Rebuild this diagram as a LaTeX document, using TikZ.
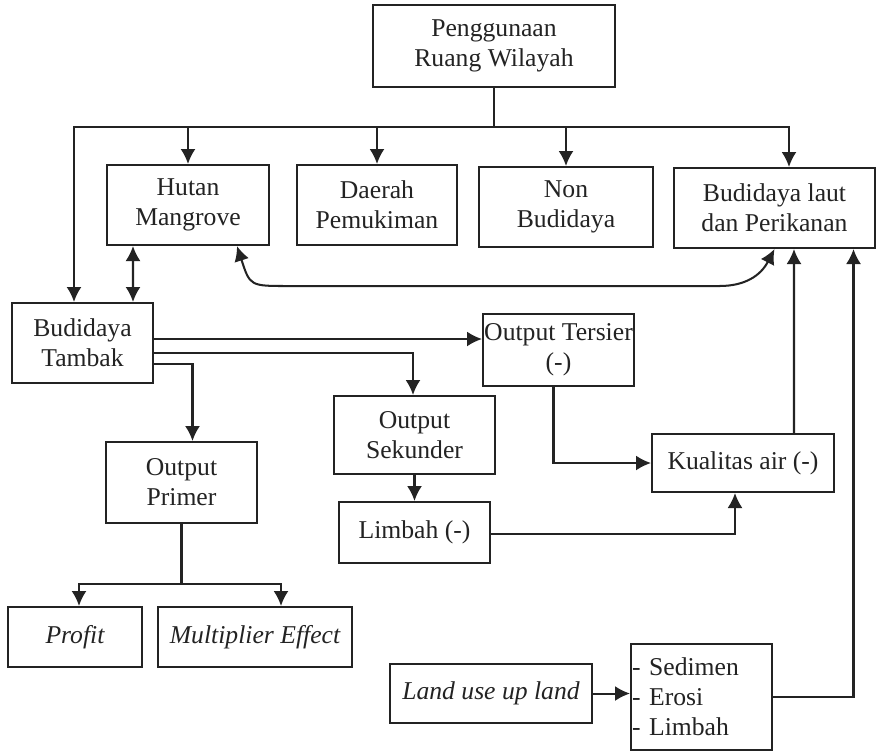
\documentclass[tikz,border=0pt]{standalone}
\usepackage{fontspec}
\setmainfont{Liberation Serif}
\usetikzlibrary{arrows.meta,calc}
\definecolor{ink}{RGB}{35,35,35}

\begin{document}
\begin{tikzpicture}[x=0.02cm,y=-0.02cm,
	box/.style={draw=ink,line width=1.15pt,align=center,inner sep=0.5pt,text=ink,font=\fontsize{14.6}{17}\selectfont},
	link/.style={draw=ink,line width=1.15pt},
	arr/.style={link,-{Latex[length=3mm,width=3mm]}},
	arrtwo/.style={link,{Latex[length=3mm,width=3mm]}-{Latex[length=3mm,width=3mm]}}]
	\useasboundingbox[fill=white] (0,0) rectangle (876,752);
	\node[box,minimum width=4.84cm,minimum height=1.64cm] (pengg) at (494,46) {Penggunaan\\Ruang Wilayah};
	\node[box,minimum width=3.24cm,minimum height=1.6cm] (hutan) at (188,205) {Hutan\\Mangrove};
	\node[box,minimum width=3.2cm,minimum height=1.6cm] (daerah) at (377,205) {Daerah\\Pemukiman};
	\node[box,minimum width=3.48cm,minimum height=1.6cm] (nonbud) at (566,207) {Non\\Budidaya};
	\node[box,minimum width=4.02cm,minimum height=1.6cm] (laut) at (774.5,208) {Budidaya laut\\dan Perikanan};
	\node[box,minimum width=2.82cm,minimum height=1.6cm] (tambak) at (82.5,343) {Budidaya\\Tambak};
	\node[box,minimum width=3.02cm,minimum height=1.44cm] (tersier) at (558.5,350) {Output Tersier\\(-)};
	\node[box,minimum width=3.22cm,minimum height=1.56cm] (sekunder) at (414.5,435) {Output\\Sekunder};
	\node[box,minimum width=3.02cm,minimum height=1.62cm] (primer) at (181.5,482.5) {Output\\Primer};
	\node[box,minimum width=3.02cm,minimum height=1.22cm] (limbah) at (414.5,532.5) {Limbah (-)};
	\node[box,minimum width=3.64cm,minimum height=1.16cm] (kualitas) at (743,463) {Kualitas air (-)};
	\node[box,minimum width=2.68cm,minimum height=1.2cm] (profit) at (75,637) {\itshape Profit};
	\node[box,minimum width=3.88cm,minimum height=1.2cm] (multi) at (255,637) {\itshape Multiplier Effect};
	\node[box,minimum width=4.04cm,minimum height=1.18cm] (landuse) at (491,693.5) {\itshape Land use up land};
	\node[box,align=left,text width=2.78cm,minimum height=2.12cm,inner xsep=0.02cm] (sedimen) at (701.5,697) {- Sedimen\\- Erosi\\- Limbah};
	\coordinate (bus) at ($(pengg.south)+(0,39)$);
	\draw[link] (pengg.south) -- (bus);
	\draw[arr] (bus) -| ($(tambak.north)+(-8.5,0)$);
	\draw[arr] (bus) -| (hutan.north);
	\draw[arr] (bus) -| (daerah.north);
	\draw[arr] (bus) -| (nonbud.north);
	\draw[arr] (bus) -| ($(laut.north)+(14.5,0)$);
	\draw[arrtwo] ($(hutan.south)+(-55,0)$) -- ($(tambak.north)+(50.5,0)$);
	\draw[arrtwo] ($(hutan.south)+(49,0)$) .. controls ($(hutan.south)+(62,40)$) .. ($(hutan.south)+(100,40)$) -- ($(laut.south)+(-55,37)$) .. controls ($(laut.south)+(-30,37)$) and ($(laut.south)+(-14,27)$) .. (laut.south);
	\draw[arr] ($(kualitas.north)+(51,0)$) -- ($(laut.south)+(19.5,0)$);
	\draw[arr] (sedimen.east) -| ($(laut.south)+(79,0)$);
	\draw[arr] ($(tambak.east)+(0,-4)$) -- ($(tersier.west)+(0,-11)$);
	\draw[arr] ($(tambak.east)+(0,10)$) -| ($(sekunder.north)+(-1.5,0)$);
	\draw[arr] ($(tambak.east)+(0,21)$) -| ($(primer.north)+(11,0)$);
	\draw[arr] (sekunder) -- (limbah);
	\draw[arr] ($(tersier.south)+(-5,0)$) |- (kualitas.west);
	\draw[arr] ($(limbah.east)+(0,1.5)$) -| ($(kualitas.south)+(-8,0)$);
	\coordinate (split) at ($(primer.south)+(0,60)$);
	\draw[link] (primer.south) -- (split);
	\draw[arr] (split) -| ($(profit.north)+(4,0)$);
	\draw[arr] (split) -| ($(multi.north)+(26,0)$);
	\draw[arr] (landuse.east) -- (landuse.east -| sedimen.west);
\end{tikzpicture}
\end{document}
